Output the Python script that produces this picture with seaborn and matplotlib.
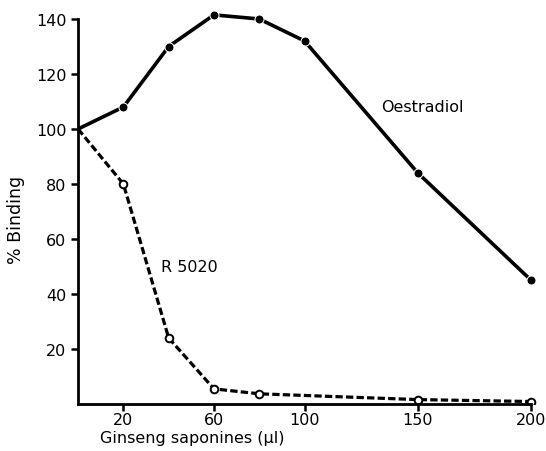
import pandas as pd
import numpy as np
import seaborn as sns
import matplotlib.pyplot as plt

# values
dose_oe = [0, 20, 40, 60, 80, 100, 150, 200]
binding_oe = [100, 108, 130, 141.5, 140, 132, 84, 45]

dose_r = [0, 20, 40, 60, 80, 150, 200]
binding_r = [100, 80, 24, 5.5, 3.7, 1.6, 0.9]

xticks = [20, 60, 100, 150, 200]
yticks = [20, 40, 60, 80, 100, 120, 140]

sns.set_style('ticks')
plt.rcParams['font.family'] = ['DejaVu Sans']
for k in ['text.color', 'axes.edgecolor', 'axes.labelcolor', 'xtick.color', 'ytick.color']:
    plt.rcParams[k] = 'black'

fig = plt.figure(figsize=(5.46, 4.52), dpi=100)
ax = fig.add_axes([0.143, 0.104, 0.838, 0.870])

sns.lineplot(x=dose_oe, y=binding_oe, ax=ax, color='black', lw=2.6,
             marker='o', markersize=6.5, markevery=list(range(1, len(dose_oe))))
sns.lineplot(x=dose_r, y=binding_r, ax=ax, color='black', lw=2.3,
             linestyle=(0, (2.3, 1.0)), marker='o', markersize=5.5,
             markerfacecolor='white', markeredgecolor='black', markeredgewidth=1.4,
             markevery=list(range(1, len(dose_r))))

ax.set_xlim(0, 202)
ax.set_ylim(0, 143)
ax.set_xticks(xticks)
ax.set_yticks(yticks)
ax.tick_params(axis='both', width=1.8, length=5, labelsize=11.5, direction='out')
ax.tick_params(axis='x', pad=1)
sns.despine(ax=ax)
ax.spines['left'].set_linewidth(2)
ax.spines['bottom'].set_linewidth(2)
ax.spines['left'].set_bounds(0, 140)
ax.spines['bottom'].set_bounds(0, 200)

ax.text(152, 108, 'Oestradiol', fontsize=11.5, ha='center', va='center')
ax.text(49, 50, 'R 5020', fontsize=11.5, ha='center', va='center')

ax.set_ylabel('% Binding', fontsize=12.5)
ax.yaxis.set_label_coords(-0.115, 0.47)
ax.set_xlabel('Ginseng saponines (μl)', fontsize=11.5)
ax.xaxis.set_label_coords(0.25, -0.066)

fig.savefig('out.png', dpi=100)
